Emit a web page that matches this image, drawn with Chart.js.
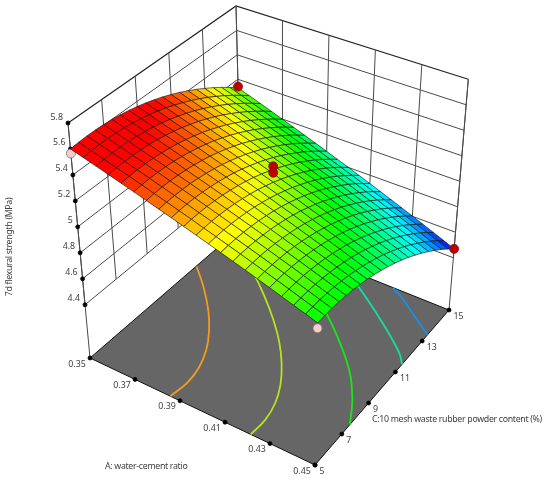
<!DOCTYPE html>
<html>
<head>
<meta charset="utf-8">
<style>
  html, body { margin: 0; padding: 0; background: #fff; }
  canvas { display: block; }
</style>
<script src="https://cdn.jsdelivr.net/npm/chart.js@4"></script>
</head>
<body>
<canvas id="surfaceChart" width="550" height="483"></canvas>
<script>
// axis ticks
const aTicks = [0.35, 0.37, 0.39, 0.41, 0.43, 0.45];
const cTicks = [5, 7, 9, 11, 13, 15];
const zTicks = [4.4, 4.6, 4.8, 5, 5.2, 5.4, 5.6, 5.8];
const zFloor = 3.99;

// mesh positions
const aMesh = [0.35, 0.355, 0.36, 0.365, 0.37, 0.375, 0.38, 0.385, 0.39, 0.395, 0.4, 0.405, 0.41, 0.415, 0.42, 0.425, 0.43, 0.435, 0.44, 0.445, 0.45];
const cMesh = [5, 5.5, 6, 6.5, 7, 7.5, 8, 8.5, 9, 9.5, 10, 10.5, 11, 11.5, 12, 12.5, 13, 13.5, 14, 14.5, 15];

// surface heights, one row per aMesh value
const strength = [
  [5.600, 5.606, 5.609, 5.609, 5.605, 5.599, 5.589, 5.577, 5.561, 5.542, 5.520, 5.495, 5.467, 5.436, 5.401, 5.364, 5.323, 5.280, 5.233, 5.183, 5.130],
  [5.572, 5.578, 5.580, 5.580, 5.576, 5.570, 5.560, 5.547, 5.531, 5.512, 5.490, 5.464, 5.436, 5.404, 5.370, 5.332, 5.291, 5.247, 5.200, 5.150, 5.097],
  [5.544, 5.549, 5.552, 5.551, 5.547, 5.540, 5.530, 5.517, 5.501, 5.481, 5.459, 5.433, 5.405, 5.373, 5.338, 5.300, 5.259, 5.215, 5.168, 5.117, 5.064],
  [5.516, 5.521, 5.523, 5.522, 5.518, 5.511, 5.501, 5.487, 5.471, 5.451, 5.428, 5.403, 5.374, 5.342, 5.307, 5.268, 5.227, 5.183, 5.135, 5.085, 5.031],
  [5.488, 5.493, 5.495, 5.494, 5.489, 5.482, 5.471, 5.458, 5.441, 5.421, 5.398, 5.372, 5.343, 5.311, 5.275, 5.237, 5.195, 5.151, 5.103, 5.052, 4.998],
  [5.460, 5.465, 5.466, 5.465, 5.460, 5.453, 5.442, 5.428, 5.411, 5.391, 5.368, 5.341, 5.312, 5.279, 5.244, 5.205, 5.163, 5.118, 5.070, 5.019, 4.965],
  [5.432, 5.436, 5.438, 5.436, 5.431, 5.423, 5.412, 5.398, 5.381, 5.360, 5.337, 5.310, 5.281, 5.248, 5.212, 5.173, 5.131, 5.086, 5.038, 4.986, 4.932],
  [5.404, 5.408, 5.409, 5.407, 5.402, 5.394, 5.383, 5.368, 5.351, 5.330, 5.306, 5.280, 5.250, 5.217, 5.181, 5.142, 5.099, 5.054, 5.005, 4.954, 4.899],
  [5.376, 5.380, 5.381, 5.379, 5.373, 5.365, 5.353, 5.339, 5.321, 5.300, 5.276, 5.249, 5.219, 5.186, 5.149, 5.110, 5.067, 5.022, 4.973, 4.921, 4.866],
  [5.348, 5.352, 5.352, 5.350, 5.344, 5.336, 5.324, 5.309, 5.291, 5.270, 5.245, 5.218, 5.188, 5.154, 5.118, 5.078, 5.035, 4.989, 4.940, 4.888, 4.833],
  [5.320, 5.323, 5.324, 5.321, 5.315, 5.306, 5.294, 5.279, 5.261, 5.239, 5.215, 5.187, 5.157, 5.123, 5.086, 5.046, 5.003, 4.957, 4.908, 4.855, 4.800],
  [5.292, 5.295, 5.295, 5.292, 5.286, 5.277, 5.265, 5.249, 5.231, 5.209, 5.184, 5.157, 5.126, 5.092, 5.055, 5.015, 4.971, 4.925, 4.875, 4.823, 4.767],
  [5.264, 5.267, 5.267, 5.264, 5.257, 5.248, 5.235, 5.220, 5.201, 5.179, 5.154, 5.126, 5.095, 5.061, 5.023, 4.983, 4.939, 4.893, 4.843, 4.790, 4.734],
  [5.236, 5.239, 5.238, 5.235, 5.228, 5.219, 5.206, 5.190, 5.171, 5.149, 5.123, 5.095, 5.064, 5.029, 4.992, 4.951, 4.907, 4.860, 4.810, 4.757, 4.701],
  [5.208, 5.210, 5.210, 5.206, 5.199, 5.189, 5.176, 5.160, 5.141, 5.118, 5.093, 5.064, 5.033, 4.998, 4.960, 4.919, 4.875, 4.828, 4.778, 4.724, 4.668],
  [5.180, 5.182, 5.181, 5.177, 5.170, 5.160, 5.147, 5.130, 5.111, 5.088, 5.062, 5.034, 5.002, 4.967, 4.929, 4.888, 4.843, 4.796, 4.745, 4.692, 4.635],
  [5.152, 5.154, 5.153, 5.149, 5.141, 5.131, 5.117, 5.101, 5.081, 5.058, 5.032, 5.003, 4.971, 4.936, 4.897, 4.856, 4.811, 4.764, 4.713, 4.659, 4.602],
  [5.124, 5.126, 5.124, 5.120, 5.112, 5.101, 5.088, 5.071, 5.051, 5.028, 5.001, 4.972, 4.940, 4.904, 4.866, 4.824, 4.779, 4.731, 4.680, 4.626, 4.569],
  [5.096, 5.097, 5.096, 5.091, 5.083, 5.072, 5.058, 5.041, 5.021, 4.997, 4.971, 4.941, 4.909, 4.873, 4.834, 4.792, 4.747, 4.699, 4.648, 4.593, 4.536],
  [5.068, 5.069, 5.067, 5.062, 5.054, 5.043, 5.029, 5.011, 4.991, 4.967, 4.940, 4.911, 4.878, 4.842, 4.803, 4.761, 4.715, 4.667, 4.615, 4.561, 4.503],
  [5.040, 5.041, 5.039, 5.034, 5.025, 5.014, 4.999, 4.982, 4.961, 4.937, 4.910, 4.880, 4.847, 4.811, 4.771, 4.729, 4.683, 4.635, 4.583, 4.528, 4.470]
];

// contours on the floor
const contourColors = ['#f39c1f', '#b7e31d', '#18e618', '#12e0a0', '#1a8fe8'];
const contourA = [
  [0.3857, 0.3866, 0.3854, 0.3821, 0.3768, 0.3697, 0.3608, 0.3557, 0.3502],
  [0.4214, 0.4217, 0.4199, 0.4160, 0.4101, 0.4025, 0.3930, 0.3819, 0.3693, 0.3550, 0.3505],
  [0.4500, 0.4460, 0.4425, 0.4352, 0.4253, 0.4137, 0.4005, 0.3858],
  [0.4500, 0.4454, 0.4318, 0.4166, 0.4000],
  [0.4500, 0.4450, 0.4355, 0.4290, 0.4230]
];
const contourC = [
  [5, 6, 7, 8, 9, 10, 11, 11.5, 12],
  [5, 6, 7, 8, 9, 10, 11, 12, 13, 14, 14.3],
  [7.6, 8.4, 9, 10, 11, 12, 13, 14],
  [11.5, 12, 13, 14, 15],
  [13.4, 13.7, 14.3, 14.7, 15]
];

// design points
const redA = [0.35, 0.45, 0.40, 0.40];
const redC = [15, 15, 10, 10];
const redZ = [5.14, 4.47, 5.34, 5.29];
const pinkA = [0.35, 0.45];
const pinkC = [5, 5];
const pinkZ = [5.565, 5.0];

// height at which the surface turns blue, cyan, green, yellow, red
const heatStops = [4.47, 4.75, 5.04, 5.28, 5.52];

// where the box corners sit on the page: left, front, right, back
const floorX = [90, 315, 449, 241.6];
const floorY = [358, 465, 310, 227];
const topX = [68, 319.5, 468.3, 236];
const topY = [123, 220, 79.3, 6];
const zTop = 5.8;

function project(a, c, z) {
  var u = (a - 0.35) / 0.1;
  var v = (c - 5) / 10;
  var t = (z - zFloor) / (zTop - zFloor);
  var w = [(1 - u) * (1 - v), u * (1 - v), u * v, (1 - u) * v];
  var fx = 0, fy = 0, tx = 0, ty = 0;
  for (var i = 0; i < 4; i++) {
    fx += w[i] * floorX[i];
    fy += w[i] * floorY[i];
    tx += w[i] * topX[i];
    ty += w[i] * topY[i];
  }
  return { x: fx + (tx - fx) * t, y: fy + (ty - fy) * t };
}

function heatColor(z) {
  var s = 4;
  for (var k = 0; k < 4; k++) {
    if (z < heatStops[k + 1]) {
      s = k + Math.max(0, (z - heatStops[k]) / (heatStops[k + 1] - heatStops[k]));
      break;
    }
  }
  var r = 0, g = 0, b = 0;
  if (s < 1) { g = s; b = 1; }
  else if (s < 2) { g = 1; b = 2 - s; }
  else if (s < 3) { r = s - 2; g = 1; }
  else { r = 1; g = 4 - s; }
  return 'rgb(' + Math.round(r * 255) + ',' + Math.round(g * 255) + ',' + Math.round(b * 255) + ')';
}

function lineSet(points, color, width, bend) {
  return { data: points, showLine: true, fill: false, pointRadius: 0, borderColor: color, borderWidth: width, tension: bend || 0 };
}

function shapeSet(points, fillColor, lineColor, width) {
  return { data: points, showLine: true, fill: 'shape', pointRadius: 0, backgroundColor: fillColor, borderColor: lineColor, borderWidth: width, tension: 0 };
}

function dotSet(points, color, lineColor, radius) {
  return { data: points, showLine: false, pointRadius: radius, pointBackgroundColor: color, pointBorderColor: lineColor, pointBorderWidth: 0.8 };
}

// painter's order, furthest first
var layers = [];
var gridColor = '#4a4a4a';

// walls
zTicks.forEach(function (z) {
  var w = z == zTop ? 1.2 : 1;
  layers.push(lineSet([project(0.35, 5, z), project(0.35, 15, z), project(0.45, 15, z)], z == zTop ? '#222' : gridColor, w));
});
cTicks.forEach(function (c) {
  layers.push(lineSet([project(0.35, c, 4.4), project(0.35, c, zTop)], gridColor, 1));
});
aTicks.forEach(function (a) {
  layers.push(lineSet([project(a, 15, 4.4), project(a, 15, zTop)], gridColor, 1));
});
layers.push(lineSet([project(0.35, 5, zFloor), project(0.35, 5, zTop)], gridColor, 1));
layers.push(lineSet([project(0.45, 15, zFloor), project(0.45, 15, zTop)], gridColor, 1));

// floor
layers.push(shapeSet([
  project(0.35, 5, zFloor), project(0.45, 5, zFloor), project(0.45, 15, zFloor), project(0.35, 15, zFloor), project(0.35, 5, zFloor)
], '#666666', '#111', 1));

contourColors.forEach(function (color, k) {
  var pts = contourA[k].map(function (a, n) { return project(a, contourC[k][n], zFloor); });
  layers.push(lineSet(pts, color, 1.8, 0.4));
});

// tick dots
layers.push(dotSet(
  aTicks.map(function (a) { return project(a, 5, zFloor); })
    .concat(cTicks.map(function (c) { return project(0.45, c, zFloor); }))
    .concat(zTicks.map(function (z) { return project(0.35, 5, z); })),
  '#000', '#000', 2));

layers.push(dotSet(pinkA.map(function (a, n) { return project(a, pinkC[n], pinkZ[n]); }), '#fbcaca', '#777', 4.5));

// surface cells, from the back corner forwards
for (var i = 0; i < aMesh.length - 1; i++) {
  for (var j = cMesh.length - 2; j >= 0; j--) {
    var mean = (strength[i][j] + strength[i + 1][j] + strength[i + 1][j + 1] + strength[i][j + 1]) / 4;
    layers.push(shapeSet([
      project(aMesh[i], cMesh[j], strength[i][j]),
      project(aMesh[i + 1], cMesh[j], strength[i + 1][j]),
      project(aMesh[i + 1], cMesh[j + 1], strength[i + 1][j + 1]),
      project(aMesh[i], cMesh[j + 1], strength[i][j + 1]),
      project(aMesh[i], cMesh[j], strength[i][j])
    ], heatColor(mean), 'rgba(20,20,20,0.8)', 0.8));
  }
}

layers.push(dotSet(redA.map(function (a, n) { return project(a, redC[n], redZ[n]); }), '#c00000', '#7a1010', 4.5));

// chart.js paints the last dataset first
layers.reverse();

var tickFont = '8.8px "Noto Sans"';
var textColor = '#404040';

const axisText = {
  id: 'axisText',
  afterDatasetsDraw: function (chart) {
    var ctx = chart.ctx;
    var sx = chart.scales.x, sy = chart.scales.y;
    function put(p, dx, dy, text, align) {
      ctx.textAlign = align;
      ctx.fillText(text, sx.getPixelForValue(p.x) + dx, sy.getPixelForValue(p.y) + dy);
    }
    ctx.save();
    ctx.font = tickFont;
    ctx.fillStyle = textColor;
    ctx.textBaseline = 'middle';
    zTicks.forEach(function (z) {
      put(project(0.35, 5, z), -5, -6, String(z), 'right');
    });
    aTicks.forEach(function (a) {
      put(project(a, 5, zFloor), -13, 6, a.toFixed(2), 'center');
    });
    cTicks.forEach(function (c) {
      put(project(0.45, c, zFloor), 4.5, 6, String(c), 'left');
    });
    // titles run a little tighter than the ticks
    ctx.letterSpacing = '-0.32px';
    ctx.textAlign = 'left';
    ctx.fillText('A: water-cement ratio', 105, 466);
    ctx.fillText('C:10 mesh waste rubber powder content (%)', 372, 419);
    ctx.translate(9, 247);
    ctx.rotate(-Math.PI / 2);
    ctx.textAlign = 'center';
    ctx.fillText('7d flexural strength (MPa)', 0, 0);
    ctx.restore();
  }
};

new Chart(document.getElementById('surfaceChart').getContext('2d'), {
  type: 'scatter',
  data: { datasets: layers },
  options: {
    responsive: false,
    animation: false,
    events: [],
    layout: { padding: 0, autoPadding: false },
    plugins: { legend: { display: false }, tooltip: { enabled: false } },
    scales: {
      x: { type: 'linear', min: 0, max: 550, display: false },
      y: { type: 'linear', min: 0, max: 483, reverse: true, display: false }
    }
  },
  plugins: [axisText]
});
</script>
</body>
</html>
